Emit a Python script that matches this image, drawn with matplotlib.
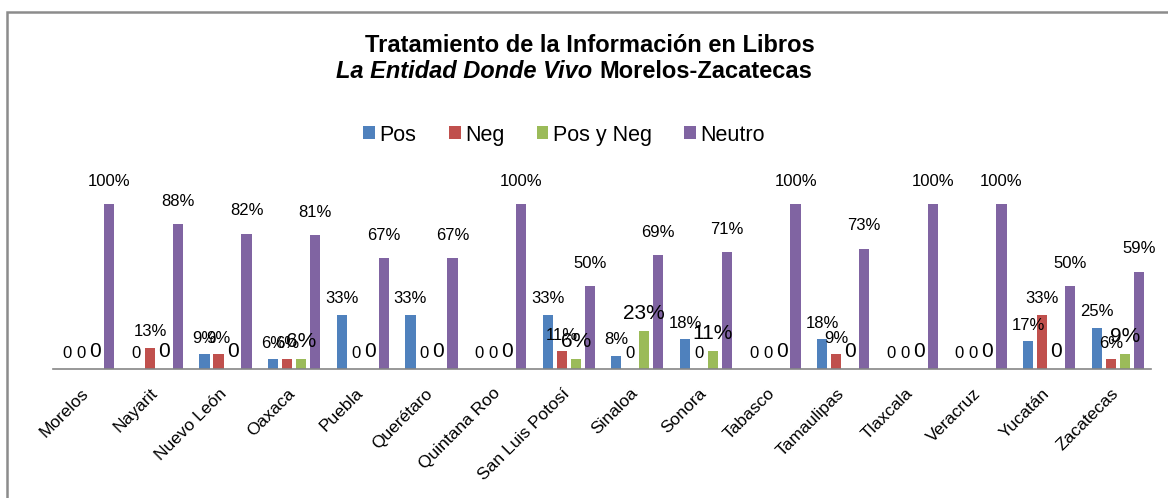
import matplotlib.pyplot as plt
import matplotlib.transforms as mtransforms
import numpy as np
from matplotlib.patches import Rectangle

plt.rcParams['font.family'] = ['Liberation Sans', 'DejaVu Sans']

# Datos
estados = ["Morelos", "Nayarit", "Nuevo León", "Oaxaca", "Puebla", "Querétaro",
           "Quintana Roo", "San Luis Potosí", "Sinaloa", "Sonora", "Tabasco",
           "Tamaulipas", "Tlaxcala", "Veracruz", "Yucatán", "Zacatecas"]
pos = [0, 0, 9, 6, 33, 33, 0, 33, 8, 18, 0, 18, 0, 0, 17, 25]
neg = [0, 13, 9, 6, 0, 0, 0, 11, 0, 0, 0, 9, 0, 0, 33, 6]
pos_neg = [0, 0, 0, 6, 0, 0, 0, 6, 23, 11, 0, 0, 0, 0, 0, 9]
neutro = [100, 88, 82, 81, 67, 67, 100, 50, 69, 71, 100, 73, 100, 100, 50, 59]

series = [("Pos", pos, "#4F81BD"), ("Neg", neg, "#C0504D"),
          ("Pos y Neg", pos_neg, "#9BBB59"), ("Neutro", neutro, "#8064A2")]

W, H = 1168, 498
fig = plt.figure(figsize=(W / 100, H / 100), dpi=100)
ax = fig.add_axes([53 / W, 129 / H, (1151 - 53) / W, 0.3645])

x = np.arange(len(estados))
paso = 0.204
ancho = 0.15
offsets = [-1.5, -0.5, 0.5, 1.5]

handles = []
for (nombre, vals, color), k in zip(series, offsets):
    xs = x + k * paso + 0.015
    b = ax.bar(xs, vals, width=ancho, color=color, label=nombre)
    handles.append(b)
    for xi, v in zip(xs, vals):
        txt = f"{v}%" if v else "0"
        size = 15 if (nombre == "Pos y Neg") else 12
        dy = 11 if nombre == "Neutro" else 6
        ax.annotate(txt, (xi, v), xytext=(0, dy), textcoords="offset points",
                    ha="center", va="bottom", fontsize=size, color="black")

ax.set_xlim(-0.5, len(estados) - 0.5)
ax.set_ylim(0, 110)
ax.set_yticks([])
for s in ["top", "right", "left"]:
    ax.spines[s].set_visible(False)
ax.spines["bottom"].set_color("#868686")
ax.spines["bottom"].set_linewidth(1.2)
ax.set_xticks(x)
ax.set_xticklabels(estados, rotation=45, ha="right", rotation_mode="anchor", fontsize=12.5)
ax.tick_params(axis="x", length=0, pad=12)
desplaza = mtransforms.ScaledTranslation(-6 / 100, 0, fig.dpi_scale_trans)
for lab in ax.get_xticklabels():
    lab.set_transform(lab.get_transform() + desplaza)

# Titulo
cx = 590
fig.text(cx / W, 1 - 52 / H, "Tratamiento de la Información en Libros",
         ha="center", va="baseline", fontsize=17, fontweight="bold")
t_it = fig.text(0, 1 - 78 / H, "La Entidad Donde Vivo ", ha="left", va="baseline",
                fontsize=17, fontweight="bold", style="italic")
t_rest = fig.text(0, 1 - 78 / H, "Morelos-Zacatecas", ha="left", va="baseline",
                  fontsize=17, fontweight="bold")
fig.canvas.draw()
r = fig.canvas.get_renderer()
w1 = t_it.get_window_extent(r).width
w2 = t_rest.get_window_extent(r).width
x0 = 574 - (w1 + w2) / 2
t_it.set_x(x0 / W)
t_rest.set_x((x0 + w1) / W)

fig.legend(handles=handles, loc="center", bbox_to_anchor=(564 / W, 1 - 135 / H),
           ncol=4, frameon=False, fontsize=15.5, handlelength=0.55, handleheight=0.55,
           handletextpad=0.2, columnspacing=1.5)

# Marco
fig.patches.append(Rectangle((7 / W, -0.1), 1.2, 1 - 12 / H + 0.1,
                             transform=fig.transFigure, fill=False,
                             edgecolor="#8C8C8C", linewidth=1.8))

fig.savefig("out.png", dpi=100)
